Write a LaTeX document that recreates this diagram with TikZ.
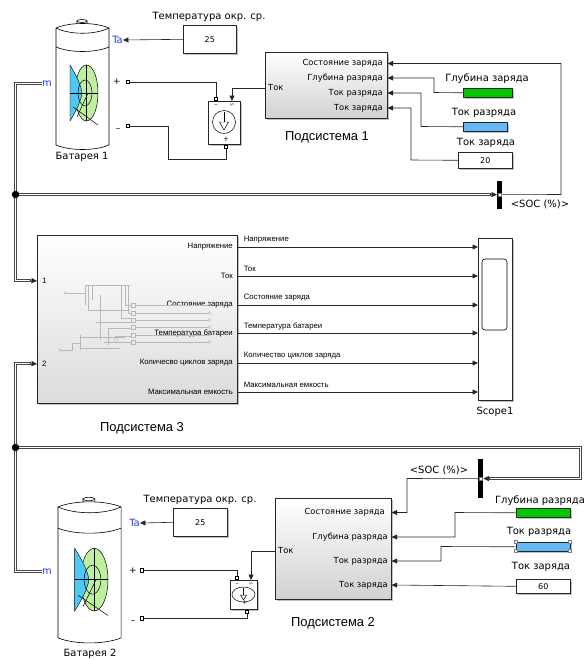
\documentclass[tikz,border=0pt]{standalone}
\usepackage{fontspec}
\setmainfont{DejaVu Sans}
\newfontfamily\arialf{Liberation Sans}
\usetikzlibrary{arrows.meta,shadows}

\definecolor{barGreen}{RGB}{0,200,0}
\definecolor{barBlue}{RGB}{100,185,245}
\definecolor{portblue}{RGB}{40,60,230}
\definecolor{battGreen}{RGB}{190,240,160}
\definecolor{battBlue}{RGB}{80,200,245}

\tikzset{
  battery/.pic={
    % terminal cap
    \draw[line width=0.6pt, fill=white] (21,-4) -- (21,1) .. controls (23,2.5) and (29,2.5) .. (31,1) -- (31,-4);
    \draw[line width=0.6pt, fill=white] (26,-4) ellipse[x radius=5, y radius=1.5];
    % body
    \draw[line width=0.6pt, fill=white] (0,3) .. controls (14,-3) and (39,-3) .. (53,3) -- (53,120)
      .. controls (39,126) and (14,126) .. (0,120) -- cycle;
    \draw[line width=0.6pt] (0,3) .. controls (14,10) and (39,10) .. (53,3);
    \draw[line width=0.6pt] (0,22) .. controls (14,28) and (39,28) .. (53,22);
    % cell emblem
    \filldraw[fill=battGreen, line width=0.5pt] (30.5,68) ellipse[x radius=11.5, y radius=28];
    \filldraw[fill=battBlue, line width=0.4pt] (14,40) .. controls (20,50) and (25,60) .. (26,68)
      .. controls (25,76) and (20,86) .. (14,96) -- cycle;
    \draw[line width=0.5pt] (29,68) ellipse[x radius=7, y radius=13];
    \draw[line width=0.5pt] (14,68) -- (42,68);
    \draw[line width=0.5pt] (30.5,40) -- (30.5,96);
    \draw[line width=0.5pt] (17,82) -- (42,100);
    \draw[line width=0.5pt] (21,92) -- (32,68);
  }
}

\begin{document}
\begin{tikzpicture}[x=1bp, y=-1bp,
  blk/.style={draw=black!85, fill=white, line width=0.6pt, inner sep=0pt, anchor=north west,
    drop shadow={shadow xshift=1.3pt, shadow yshift=-1.3pt, fill=black!45, opacity=0.55}},
  sub/.style={blk, top color=white, bottom color=black!18},
  sel/.style={fill=black, inner sep=0pt, anchor=north west, minimum width=5bp},
  selport/.style={draw=black!55, fill=white, inner sep=0pt, minimum width=2.5pt, minimum height=4pt},
  term/.style={draw=black, fill=white, line width=0.5pt, minimum size=3.5pt, inner sep=0pt},
  junc/.style={circle, fill=black, minimum size=7.5pt, inner sep=0pt},
  sig/.style={draw=black!85, line width=0.6pt, -{Triangle[length=5.5pt,width=5pt]}},
  wire/.style={draw=black!85, line width=0.6pt},
  bus/.style={draw=black!72, line width=3.2bp, postaction={draw=white, line width=1.2bp}},
  lbl/.style={inner sep=0pt, font=\fontsize{10}{12}\selectfont},
  numlbl/.style={font=\fontsize{8}{9}\selectfont},
  sublbl/.style={inner sep=0pt, font=\arialf\fontsize{13}{15}\selectfont},
  plbl/.style={inner sep=0pt, font=\fontsize{8.4}{10}\selectfont},
  alb/.style={inner sep=0pt, font=\arialf\fontsize{7.8}{9}\selectfont},
  bport/.style={inner sep=0pt, text=portblue, font=\fontsize{10}{12}\selectfont},
  sign/.style={inner sep=0pt, font=\fontsize{9}{10}\selectfont},
  tiny/.style={inner sep=0pt, font=\fontsize{4}{4}\selectfont, rotate=-90}
]
\useasboundingbox (0,0) rectangle (587,660);

% ================= battery 1 and its circuit =================
\pic at (56,25) {battery};
\node[lbl] (bat1t) at (82,157) {Батарея 1};
\node[bport, anchor=east] (ta1) at (123,40) {Ta};
\node[bport, anchor=west] (m1) at (42,83.5) {m};
\node[sign] (plus1) at (117,82) {+};
\node[sign] (minus1) at (118,130) {\textendash};
\node[term] (bp1) at (128,82) {};
\node[term] (bm1) at (128,126) {};

\node[blk, numlbl, minimum width=53bp, minimum height=28bp] (amb1) at (183,25) {25};
\node[lbl] (amb1t) at (209,17) {Температура окр. ср.};
\draw[sig] (amb1.west) -- (ta1.east);

% controlled current source 1
\node[blk, minimum width=32bp, minimum height=43bp] (cs1) at (208,101) {};
\draw[line width=0.5pt] (224,122) circle[radius=11.5bp];
\draw[line width=0.5pt] (224,112) -- (224,122);
\draw[line width=0.5pt, fill=white] (219.5,122) -- (228.5,122) -- (224,130) -- cycle;
\node[inner sep=0pt, font=\fontsize{7}{7}\selectfont] (cs1p) at (226,139) {+};
\node[tiny] (cs1i) at (216,105) {I};
\node[tiny] (cs1s) at (232,105) {S};
\node[term] (cs1a) at (216,98.5) {};
\node[term] (cs1b) at (226,146.5) {};
\coordinate (cs1in) at (232,101);

% subsystem 1
\node[sub, minimum width=122bp, minimum height=66bp] (ss1) at (265,52) {};
\node[sublbl] (ss1t) at (327,137) {Подсистема 1};
\node[plbl, anchor=west] (tok1) at (268,88) {Ток};
\node[plbl, anchor=east] (s1a) at (383,63.5) {Состояние заряда};
\node[plbl, anchor=east] (s1b) at (383,78) {Глубина разряда};
\node[plbl, anchor=east] (s1c) at (383,93) {Ток разряда};
\node[plbl, anchor=east] (s1d) at (383,108) {Ток заряда};

\draw[wire] (bp1.east) -- (216,82) -- (cs1a.north);
\draw[wire] (bm1.east) -- (168,126) -- (168,159) -- (226,159) -- (cs1b.south);
\draw[sig] (ss1.west |- tok1) -- (232,88) -- (cs1in);

% sources feeding subsystem 1
\node[blk, fill=barGreen, minimum width=49bp, minimum height=9bp] (gz1) at (463,88) {};
\node[lbl] (gz1t) at (487,79) {Глубина заряда};
\node[blk, fill=barBlue, minimum width=44bp, minimum height=9bp] (tr1) at (463,122) {};
\node[lbl] (tr1t) at (484,113) {Ток разряда};
\node[blk, numlbl, minimum width=54bp, minimum height=16bp] (tz1) at (458,152) {20};
\node[lbl] (tz1t) at (486,143) {Ток заряда};

\draw[sig] (gz1.west) -- (434,92.5) -- (434,78) -- (ss1.east |- s1b);
\draw[sig] (tr1.west) -- (421,126.5) -- (421,93) -- (ss1.east |- s1c);
\draw[sig] (tz1.west) -- (411,160) -- (411,108) -- (ss1.east |- s1d);

% bus selector 1
\node[sel, minimum height=28bp] (bs1) at (497,180.5) {};
\node[lbl] (bs1t) at (540,204) {<SOC (\%)>};
\draw[sig] (bs1.east) -- (561,194.5) -- (561,63.5) -- (ss1.east |- s1a);

% ================= subsystem 3 and scope =================
\node[sub, bottom color=black!14, minimum width=200bp, minimum height=168bp] (ss3) at (37,235) {};
\node[sublbl] (ss3t) at (142,428) {Подсистема 3};
\node[alb, anchor=west] (in1) at (42,281) {1};
\node[alb, anchor=west] (in2) at (42,364) {2};
\node[alb, anchor=east] (o1) at (233,247) {Напряжение};
\node[alb, anchor=east] (o2) at (233,276) {Ток};
\node[alb, anchor=east] (o3) at (233,305) {Состояние заряда};
\node[alb, anchor=east] (o4) at (233,333) {Температура батареи};
\node[alb, anchor=east] (o5) at (233,363) {Количесво циклов заряда};
\node[alb, anchor=east] (o6) at (233,392) {Максимальная емкость};

% faint internal sketch of subsystem 3
\begin{scope}[draw=black!28, line width=0.35pt]
  \draw (65,293) circle[radius=1.4bp];
  \draw[line width=1pt] (66.4,293) -- (85,293);
  \draw (85,285) -- (85,305);
  \draw (85,285) -- (130,285);
  \draw (88,285) -- (88,310) -- (130,310);
  \draw (92,285) -- (92,300);
  \draw (121,285) -- (121,318) -- (131,318);
  \draw (125,285) -- (125,305) -- (131,305);
  \draw (128,285) -- (128,313) -- (131,313);
  \draw (100,295) -- (100,340);
  \draw (96,322) -- (131,322);
  \draw (108,328) -- (131,328);
  \draw (108,328) -- (108,345);
  \draw (115,336) -- (131,336);
  \draw (104,342) -- (131,342);
  \foreach \yy in {305,313,320,327,335,342}{
    \draw (131,\yy-2) rectangle (135,\yy+2);
    \draw (135,\yy) -- (208,\yy);
    \draw (209.5,\yy) circle[radius=1.4bp];
  }
  \draw (60,350) circle[radius=1.4bp];
  \draw[line width=1pt] (61.4,350) -- (72,350) -- (72,343) -- (80,343);
  \draw (80,335) -- (80,350);
  \draw (80,337) -- (125,337);
  \draw (80,348) -- (120,348);
  \draw (116,340) circle[radius=2bp];
\end{scope}

% scope
\node[blk, minimum width=34bp, minimum height=162bp] (sc) at (478,238) {};
\draw[line width=0.6pt, rounded corners=3pt] (482,259) rectangle (507,330);
\node[lbl] (sct) at (495,412) {Scope1};

\foreach \o/\t in {o1/Напряжение, o2/Ток, o3/Состояние заряда, o4/Температура батареи,
                   o5/Количество циклов заряда, o6/Максимальная емкость}{
  \draw[sig] (ss3.east |- \o) -- (sc.west |- \o);
  \node[alb, anchor=west] at ([yshift=7bp] ss3.east |- \o) [xshift=6bp] {\t};
}

% ================= battery 2 and its circuit =================
\pic[xscale=1.19, yscale=1.12] at (58,503.5) {battery};
\node[lbl] (bat2t) at (90,654) {Батарея 2};
\node[bport, anchor=east] (ta2) at (140,523) {Ta};
\node[bport, anchor=west] (m2) at (42,571.5) {m};
\node[sign] (plus2) at (133,571) {+};
\node[sign] (minus2) at (133,622) {\textendash};
\node[term] (bp2) at (142,570) {};
\node[term] (bm2) at (142,618) {};

\node[blk, numlbl, minimum width=54bp, minimum height=28bp] (amb2) at (173,508) {25};
\node[lbl] (amb2t) at (200,500) {Температура окр. ср.};
\draw[sig] (amb2.west) -- (ta2.east);

% controlled current source 2
\node[blk, minimum width=27bp, minimum height=29bp] (cs2) at (230,580) {};
\draw[line width=0.5pt] (243.5,594.5) ellipse[x radius=11.5, y radius=7.5];
\draw[line width=0.5pt] (243.5,588) -- (243.5,595);
\draw[line width=0.5pt, fill=white] (240.5,595) -- (246.5,595) -- (243.5,600) -- cycle;
\node[inner sep=0pt, font=\fontsize{6}{6}\selectfont] (cs2p) at (245,603) {+};
\node[tiny] (cs2i) at (237,584) {I};
\node[tiny] (cs2s) at (251,584) {S};
\node[term] (cs2a) at (237,577.5) {};
\node[term] (cs2b) at (247,611.5) {};
\coordinate (cs2in) at (251,580);

% subsystem 2
\node[sub, minimum width=116bp, minimum height=101bp] (ss2) at (275,498) {};
\node[sublbl] (ss2t) at (333,623) {Подсистема 2};
\node[plbl, anchor=west] (tok2) at (278,551) {Ток};
\node[plbl, anchor=east] (s2a) at (385,512.5) {Состояние заряда};
\node[plbl, anchor=east] (s2b) at (388,537) {Глубина разряда};
\node[plbl, anchor=east] (s2c) at (388,561) {Ток разряда};
\node[plbl, anchor=east] (s2d) at (388,585) {Ток заряда};

\draw[wire] (bp2.east) -- (237,570) -- (cs2a.north);
\draw[wire] (bm2.east) -- (247,618) -- (cs2b.south);
\draw[sig] (ss2.west |- tok2) -- (251,551) -- (cs2in);

% sources feeding subsystem 2
\node[blk, fill=barGreen, minimum width=54bp, minimum height=9bp] (gz2) at (516,508) {};
\node[lbl] (gz2t) at (540,501) {Глубина разряда};
\node[blk, fill=barBlue, minimum width=54bp, minimum height=9bp] (tr2) at (516,542) {};
\node[lbl] (tr2t) at (539,532) {Ток разряда};
\foreach \hx/\hy in {516/542, 570/542, 516/551, 570/551}{
  \draw[black!50, fill=black!8, line width=0.4pt] (\hx-1.6,\hy-1.6) rectangle (\hx+1.6,\hy+1.6);
}
\node[blk, numlbl, minimum width=54bp, minimum height=14bp] (tz2) at (516,579) {60};
\node[lbl] (tz2t) at (541,567) {Ток заряда};

\draw[sig] (gz2.west) -- (455,512.5) -- (455,537) -- (ss2.east |- s2b);
\draw[sig] (tr2.west) -- (441,546.5) -- (441,561) -- (ss2.east |- s2c);
\draw[sig] (tz2.west) -- (ss2.east |- s2d);

% bus selector 2
\node[sel, minimum height=39bp] (bs2) at (478,459) {};
\node[lbl] (bs2t) at (439,470) {<SOC (\%)>};
\draw[sig] (bs2.west) -- (407,478.5) -- (407,512.5) -- (ss2.east |- s2a);

% ================= bus wiring =================
\coordinate (j1) at (15.5,194.5);
\coordinate (j2) at (15.5,447.5);
\draw[bus] (m1.west) -- (15.5,83.5) -- (15.5,280.5) -- (31,280.5);
\draw[bus] (j1) -- (491,194.5);
\draw[bus] (m2.west) -- (15.5,571.5) -- (15.5,363.5) -- (31,363.5);
\draw[bus] (j2) -- (580.5,447.5) -- (580.5,478.5) -- (489,478.5);
\node[junc] (j1d) at (j1) {};
\node[junc] (j2d) at (j2) {};
\draw[sig] (30,280.5) -- (ss3.west |- in1);
\draw[sig] (30,363.5) -- (ss3.west |- in2);
\draw[sig] (490,194.5) -- (bs1.west);
\draw[sig] (490,478.5) -- (bs2.east);
\node[selport] (bs1p) at (bs1.center) {};
\node[selport] (bs2p) at (bs2.center) {};
\end{tikzpicture}
\end{document}
